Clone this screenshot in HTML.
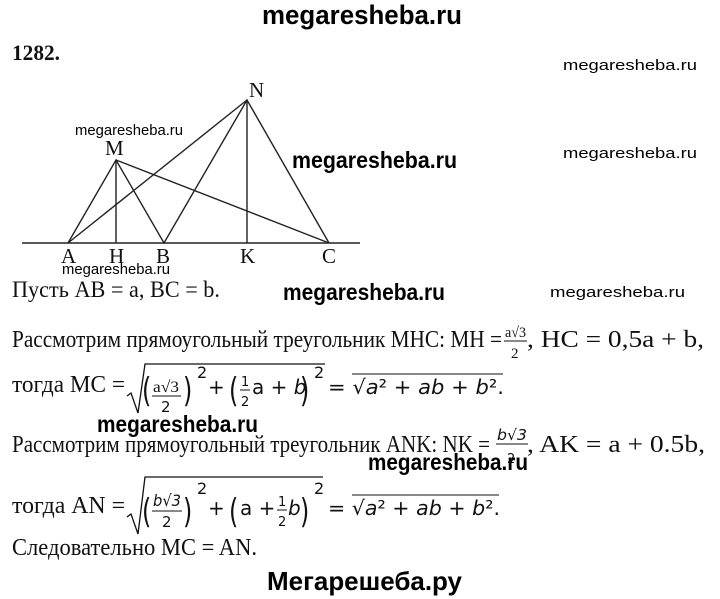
<!DOCTYPE html>
<html><head><meta charset="utf-8"><style>
html,body{margin:0;padding:0;background:#fff;width:720px;height:599px;overflow:hidden}
svg{display:block}
.s{font-family:"Liberation Serif",serif;fill:#111}
.w{font-family:"Liberation Sans",sans-serif;fill:#000}
.b{font-family:"Liberation Sans",sans-serif;font-weight:bold;fill:#000}
.m{font-family:"DejaVu Sans",sans-serif;fill:#111}
</style></head><body>
<svg width="720" height="599" viewBox="0 0 720 599" xmlns="http://www.w3.org/2000/svg">
<text class="b" x="262" y="24" font-size="27" textLength="200" lengthAdjust="spacingAndGlyphs">megaresheba.ru</text>
<text class="s" x="12" y="60" font-size="22" font-weight="bold" textLength="48" lengthAdjust="spacingAndGlyphs">1282.</text>
<text class="w" x="563" y="70" font-size="15" textLength="134" lengthAdjust="spacingAndGlyphs">megaresheba.ru</text>
<text class="w" x="563" y="158" font-size="15" textLength="134" lengthAdjust="spacingAndGlyphs">megaresheba.ru</text>
<text class="w" x="75" y="135" font-size="15" textLength="108" lengthAdjust="spacingAndGlyphs">megaresheba.ru</text>
<text class="b" x="292" y="168" font-size="23" textLength="165" lengthAdjust="spacingAndGlyphs">megaresheba.ru</text>
<text class="w" x="62" y="274" font-size="15" textLength="108" lengthAdjust="spacingAndGlyphs">megaresheba.ru</text>
<text class="w" x="550" y="297" font-size="15" textLength="135" lengthAdjust="spacingAndGlyphs">megaresheba.ru</text>
<text class="b" x="283" y="300" font-size="23" textLength="162" lengthAdjust="spacingAndGlyphs">megaresheba.ru</text>
<text class="b" x="97" y="432" font-size="23" textLength="161" lengthAdjust="spacingAndGlyphs">megaresheba.ru</text>
<text class="b" x="368" y="470" font-size="23" textLength="160" lengthAdjust="spacingAndGlyphs">megaresheba.ru</text>

<g stroke="#222" stroke-width="1.4" fill="none">
<line x1="22" y1="243" x2="360" y2="243"/>
<polyline points="68,243 116,160 164,243 247,100 329,243"/>
<line x1="68" y1="243" x2="247" y2="100"/>
<line x1="116" y1="160" x2="329" y2="243"/>
<line x1="116" y1="160" x2="116" y2="243"/>
<line x1="247" y1="100" x2="247" y2="243"/>
</g>
<g class="s" font-size="21">
<text x="249" y="97">N</text>
<text x="105" y="155">M</text>
<text x="61" y="263">A</text>
<text x="109" y="263">H</text>
<text x="156" y="263">B</text>
<text x="240" y="263">K</text>
<text x="322" y="263">C</text>
</g>

<text class="s" x="12" y="297" font-size="23" textLength="208" lengthAdjust="spacingAndGlyphs">Пусть AB = a, BC = b.</text>

<text class="s" x="12" y="347" font-size="24" textLength="490" lengthAdjust="spacingAndGlyphs">Рассмотрим прямоугольный треугольник MHC: MH =</text>
<text class="s" x="505" y="337" font-size="15" textLength="21" lengthAdjust="spacingAndGlyphs">a√3</text>
<line x1="504" y1="341" x2="527" y2="341" stroke="#111" stroke-width="1"/>
<text class="s" x="511" y="358" font-size="15">2</text>
<text class="s" x="527" y="347" font-size="24" textLength="177" lengthAdjust="spacingAndGlyphs">, HC = 0,5a + b,</text>

<text class="s" x="12" y="392" font-size="24" textLength="113" lengthAdjust="spacingAndGlyphs">тогда MC =</text>
<path d="M127,396 L131,393 L138,413 L145,364 L325,364" stroke="#111" stroke-width="1.3" fill="none"/>
<text class="m" x="142" y="402" font-size="34" transform="translate(142 0) scale(0.7 1) translate(-142 0)">(</text>
<text class="s" x="153" y="392" font-size="16" textLength="26" lengthAdjust="spacingAndGlyphs">a√3</text>
<line x1="152" y1="396" x2="181" y2="396" stroke="#111" stroke-width="1"/>
<text class="m" x="161" y="412" font-size="15">2</text>
<text class="m" x="183" y="402" font-size="34" transform="translate(183 0) scale(0.7 1) translate(-183 0)">)</text>
<text class="m" x="197" y="378" font-size="16">2</text>
<text class="m" x="208" y="394" font-size="20">+</text>
<text class="m" x="229" y="402" font-size="34" transform="translate(229 0) scale(0.7 1) translate(-229 0)">(</text>
<text class="m" x="241" y="386" font-size="13">1</text>
<line x1="240" y1="390" x2="250" y2="390" stroke="#111" stroke-width="1"/>
<text class="m" x="241" y="406" font-size="13">2</text>
<text class="m" x="252" y="394" font-size="20">a + <tspan font-style="italic">b</tspan></text>
<text class="m" x="300" y="402" font-size="34" transform="translate(300 0) scale(0.7 1) translate(-300 0)">)</text>
<text class="m" x="314" y="378" font-size="16">2</text>
<text class="m" x="328" y="394" font-size="20" textLength="176" lengthAdjust="spacingAndGlyphs">= √<tspan font-style="italic">a</tspan>² + <tspan font-style="italic">ab</tspan> + <tspan font-style="italic">b</tspan>².</text>
<line x1="352" y1="374" x2="503" y2="374" stroke="#111" stroke-width="1"/>

<text class="s" x="12" y="452" font-size="24" textLength="478" lengthAdjust="spacingAndGlyphs">Рассмотрим прямоугольный треугольник ANK: NK =</text>
<text class="m" x="497" y="440" font-size="15" font-style="italic" textLength="30" lengthAdjust="spacingAndGlyphs">b√3</text>
<line x1="496" y1="444" x2="528" y2="444" stroke="#111" stroke-width="1"/>
<text class="m" x="507" y="463" font-size="13">2</text>
<text class="s" x="527" y="452" font-size="24" textLength="178" lengthAdjust="spacingAndGlyphs">, AK = a + 0.5b,</text>

<text class="s" x="12" y="513" font-size="24" textLength="113" lengthAdjust="spacingAndGlyphs">тогда AN =</text>
<path d="M127,517 L131,514 L138,534 L145,477 L323,477" stroke="#111" stroke-width="1.3" fill="none"/>
<text class="m" x="142" y="523" font-size="34" transform="translate(142 0) scale(0.7 1) translate(-142 0)">(</text>
<text class="m" x="153" y="506" font-size="16" font-style="italic" textLength="28" lengthAdjust="spacingAndGlyphs">b√3</text>
<line x1="152" y1="511" x2="182" y2="511" stroke="#111" stroke-width="1"/>
<text class="m" x="162" y="527" font-size="15">2</text>
<text class="m" x="183" y="523" font-size="34" transform="translate(183 0) scale(0.7 1) translate(-183 0)">)</text>
<text class="m" x="197" y="494" font-size="16">2</text>
<text class="m" x="208" y="515" font-size="20">+</text>
<text class="m" x="229" y="523" font-size="34" transform="translate(229 0) scale(0.7 1) translate(-229 0)">(</text>
<text class="m" x="240" y="515" font-size="20">a +</text>
<text class="m" x="278" y="506" font-size="13">1</text>
<line x1="277" y1="510" x2="287" y2="510" stroke="#111" stroke-width="1"/>
<text class="m" x="278" y="526" font-size="13">2</text>
<text class="m" x="288" y="515" font-size="20" font-style="italic">b</text>
<text class="m" x="300" y="523" font-size="34" transform="translate(300 0) scale(0.7 1) translate(-300 0)">)</text>
<text class="m" x="314" y="494" font-size="16">2</text>
<text class="m" x="328" y="515" font-size="20" textLength="172" lengthAdjust="spacingAndGlyphs">= √<tspan font-style="italic">a</tspan>² + <tspan font-style="italic">ab</tspan> + <tspan font-style="italic">b</tspan>².</text>
<line x1="352" y1="495" x2="499" y2="495" stroke="#111" stroke-width="1"/>

<text class="s" x="12" y="555" font-size="24" textLength="245" lengthAdjust="spacingAndGlyphs">Следовательно MC = AN.</text>
<text class="b" x="267" y="590" font-size="26" textLength="195" lengthAdjust="spacingAndGlyphs">Мегарешеба.ру</text>
</svg>
</body></html>
